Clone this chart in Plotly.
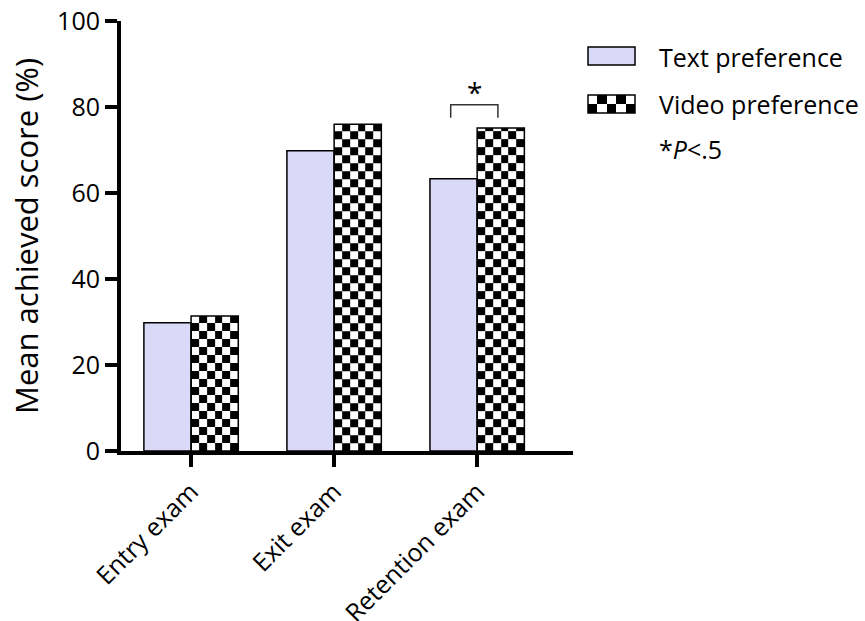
import numpy as np
import plotly.graph_objects as go

# Data
categories = ["Entry exam", "Exit exam", "Retention exam"]
text_pref = [29.8, 69.8, 63.3]
video_pref = [31.4, 76.0, 75.1]
y_ticks = [0, 20, 40, 60, 80, 100]
series_names = ["Text preference", "Video preference"]
sig_note = "*<i>P</i>&lt;.5"

# Style / geometry
W, H = 865, 621
BAR_W = 0.33
LAVENDER = "#dadaf8"
FONT = "Open Sans"
TICK_SIZE = 25
CHECK_COLS = 6          # checker squares across one bar
CHECK_H = 1.86          # checker square height in y units

x_pos = np.arange(len(categories))

fig = go.Figure()

# Checkerboard fill for the video bars, built as heatmaps clipped to each bar value
for xi, v in zip(x_pos, video_pref):
    xe = np.linspace(xi, xi + BAR_W, CHECK_COLS + 1)
    ye = list(np.arange(0, v, CHECK_H))
    if ye[-1] < v:
        ye.append(v)
    nrows = len(ye) - 1
    z = [[(r + c) % 2 for c in range(CHECK_COLS)] for r in range(nrows)]
    fig.add_trace(go.Heatmap(
        x=xe, y=ye, z=z, zmin=0, zmax=1,
        colorscale=[[0, "white"], [1, "black"]],
        showscale=False, hoverinfo="skip", xaxis="x", yaxis="y"))

# Bars
fig.add_trace(go.Bar(
    x=x_pos, y=text_pref, width=BAR_W, offset=-BAR_W, name=series_names[0],
    marker=dict(color=LAVENDER, line=dict(color="black", width=1.5)),
    showlegend=False))
fig.add_trace(go.Bar(
    x=x_pos, y=video_pref, width=BAR_W, offset=0, name=series_names[1],
    marker=dict(color="rgba(0,0,0,0)", line=dict(color="black", width=1.5)),
    showlegend=False))

# Significance bracket over the retention exam pair
gi = 2
b_top = max(text_pref[gi], video_pref[gi]) + 5.4
b_low = b_top - 3.0
bx0 = gi - BAR_W / 2 - 0.02
bx1 = gi + BAR_W / 2 - 0.02
fig.add_trace(go.Scatter(
    x=[bx0, bx0, bx1, bx1], y=[b_low, b_top, b_top, b_low],
    mode="lines", line=dict(color="#333333", width=1.5),
    showlegend=False, hoverinfo="skip"))
fig.add_annotation(x=(bx0 + bx1) / 2, y=b_top, text="*", showarrow=False,
                   yanchor="bottom", yshift=-8, xref="x", yref="y",
                   font=dict(family=FONT, size=28, color="black"))

# Legend swatch (checkerboard) on a small helper axis
fig.add_trace(go.Heatmap(
    x=np.linspace(0, 5, 6), y=[0, 1, 2],
    z=[[1, 0, 1, 0, 1], [0, 1, 0, 1, 0]], zmin=0, zmax=1,
    colorscale=[[0, "white"], [1, "black"]],
    showscale=False, hoverinfo="skip", xaxis="x2", yaxis="y2"))

plot_l, plot_r, plot_t, plot_b = 121, 573, 21, 451

fig.update_layout(
    width=W, height=H,
    margin=dict(l=0, r=0, t=0, b=0),
    paper_bgcolor="white", plot_bgcolor="white",
    barmode="overlay",
    font=dict(family=FONT, size=TICK_SIZE, color="black"),
    xaxis=dict(
        domain=[plot_l / W, plot_r / W],
        range=[-0.49, 2.67], automargin=False,
        tickmode="array", tickvals=list(x_pos), ticktext=categories,
        tickangle=-45, ticks="outside", ticklen=12, tickwidth=3.5,
        tickcolor="black", showline=True, linecolor="black", linewidth=4,
        showgrid=False, zeroline=False,
        tickfont=dict(family=FONT, size=TICK_SIZE, color="black")),
    yaxis=dict(
        domain=[1 - plot_b / H, 1 - plot_t / H],
        range=[0, 100], automargin=False,
        tickmode="array", tickvals=y_ticks,
        ticks="outside", ticklen=12, tickwidth=3.5, tickcolor="black",
        showline=True, linecolor="black", linewidth=4,
        showgrid=False, zeroline=False,
        tickfont=dict(family=FONT, size=TICK_SIZE, color="black")),
    xaxis2=dict(domain=[588 / W, 635 / W], range=[0, 5], visible=False,
                fixedrange=True, anchor="y2", automargin=False),
    yaxis2=dict(domain=[1 - 113 / H, 1 - 95 / H], range=[0, 2], visible=False,
                fixedrange=True, anchor="x2", automargin=False),
    showlegend=False,
)

# Axis title
fig.add_annotation(x=26 / W, y=1 - 236 / H, xref="paper", yref="paper",
                   xanchor="center", yanchor="middle",
                   text="Mean achieved score (%)", textangle=-90,
                   showarrow=False, font=dict(family=FONT, size=31, color="black"))

# Legend swatches and labels
fig.add_shape(type="rect", xref="paper", yref="paper",
              x0=588 / W, x1=635 / W, y0=1 - 65 / H, y1=1 - 47 / H,
              fillcolor=LAVENDER, line=dict(color="black", width=1.5))
fig.add_shape(type="rect", xref="paper", yref="paper",
              x0=588 / W, x1=635 / W, y0=1 - 113 / H, y1=1 - 95 / H,
              fillcolor="rgba(0,0,0,0)", line=dict(color="black", width=1.5))
for label, yc in [(series_names[0], 57), (series_names[1], 104), (sig_note, 149)]:
    fig.add_annotation(x=657 / W, y=1 - yc / H, xref="paper", yref="paper",
                       text=label, showarrow=False, xanchor="left",
                       yanchor="middle",
                       font=dict(family=FONT, size=TICK_SIZE, color="black"))

fig.write_html("out.html")
